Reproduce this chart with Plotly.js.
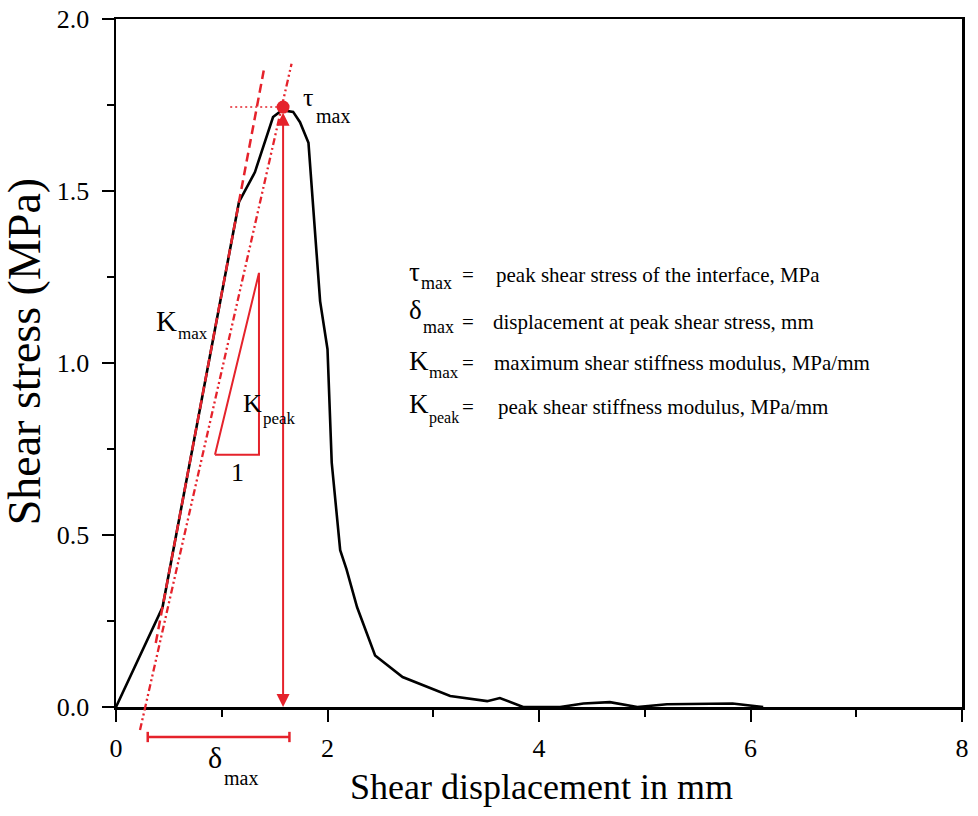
<!DOCTYPE html>
<html><head><meta charset="utf-8">
<script src="https://cdn.plot.ly/plotly-3.0.1.min.js"></script>
<style>html,body{margin:0;padding:0;background:#fff}#chart{width:978px;height:816px}</style>
</head><body><div id="chart"></div>
<script>
// ---- data ----
const dispX   = [0, 0.44, 1.163, 1.314, 1.485, 1.57, 1.675, 1.74, 1.82, 1.865, 1.93, 2.0, 2.04, 2.12, 2.18, 2.28, 2.45, 2.71, 3.16, 3.51, 3.63, 3.85, 4.2, 4.42, 4.67, 4.93, 5.21, 5.83, 6.12];
const stressY = [0, 0.29, 1.468, 1.555, 1.715, 1.735, 1.73, 1.70, 1.64, 1.445, 1.18, 1.04, 0.71, 0.456, 0.40, 0.29, 0.15, 0.087, 0.032, 0.017, 0.026, 0, 0, 0.01, 0.014, 0, 0.008, 0.01, 0];
const peakX = [1.58];
const peakY = [1.744];
const kmaxX = [0.376, 1.397];
const kmaxY = [0.186, 1.85];
const kpeakX = [0.227, 1.66];
const kpeakY = [-0.067, 1.87];
const triX = [0.936, 1.352, 1.352, 0.936];
const triY = [0.733, 0.733, 1.262, 0.733];
const tauGuideX = [1.08, 1.58];
const deltaBarX = [0.30, 1.64];
const xTickVals = [0, 2, 4, 6, 8];
const yTickVals = [0, 0.5, 1.0, 1.5, 2.0];
const legendBase = ['τ', 'δ', 'K', 'K'];
const legendSub = ['max', 'max', 'max', 'peak'];
const legendTexts = ['peak shear stress of the interface, MPa', 'displacement at peak shear stress, mm', 'maximum shear stiffness modulus, MPa/mm', 'peak shear stiffness modulus, MPa/mm'];
const xTitle = 'Shear displacement in mm';
const yTitle = 'Shear stress (MPa)';

// ---- layout constants ----
const RED = '#e5222b';
const FONT = 'Liberation Serif';
const yMax = 2.0;
const legRowY = [1.256, 1.119, 1.0, 0.872];
const legTextX = [3.584, 3.556, 3.565, 3.603];
const legBaseX = 2.761, legEqX = 3.329;
const legBaseY = [1.2645, 1.155, 1.0058, 0.8808];
const legSubX = [2.875, 2.894, 2.950, 2.950];
const legSubY = [1.2326, 1.1047, 0.9738, 0.8401];
const legSubSize = [18, 18, 17, 16];
const barPaperY = -0.0436, capHalf = 0.0075;

const traces = [
  {x: dispX, y: stressY, mode: 'lines', line: {color: '#000', width: 2.6}, hoverinfo: 'skip'},
  {x: kmaxX, y: kmaxY, mode: 'lines', line: {color: RED, width: 2.5, dash: '9px,5px'}, hoverinfo: 'skip'},
  {x: triX, y: triY, mode: 'lines', line: {color: RED, width: 2}, hoverinfo: 'skip'},
  {x: tauGuideX, y: [peakY[0], peakY[0]], mode: 'lines', line: {color: RED, width: 1.5, dash: '2px,3px'}, hoverinfo: 'skip'},
  {x: peakX, y: peakY, mode: 'markers', marker: {color: RED, size: 13}, hoverinfo: 'skip', cliponaxis: false}
];

const shapes = [
  {type: 'line', xref: 'x', yref: 'paper', x0: kpeakX[0], x1: kpeakX[1], y0: kpeakY[0] / yMax, y1: kpeakY[1] / yMax,
   line: {color: RED, width: 2.3, dash: '7px,3px,2px,3px,2px,3px'}},
  {type: 'line', xref: 'x', yref: 'paper', x0: deltaBarX[0], x1: deltaBarX[1], y0: barPaperY, y1: barPaperY, line: {color: RED, width: 2.5}},
  {type: 'line', xref: 'x', yref: 'paper', x0: deltaBarX[0], x1: deltaBarX[0], y0: barPaperY - capHalf, y1: barPaperY + capHalf, line: {color: RED, width: 2.5}},
  {type: 'line', xref: 'x', yref: 'paper', x0: deltaBarX[1], x1: deltaBarX[1], y0: barPaperY - capHalf, y1: barPaperY + capHalf, line: {color: RED, width: 2.5}}
];

const ann = [];
ann.push({x: peakX[0], y: 0, ax: peakX[0], ay: peakY[0] - 0.012, xref: 'x', yref: 'y', axref: 'x', ayref: 'y',
  text: '', showarrow: true, arrowhead: 2, startarrowhead: 2, arrowside: 'end+start', arrowsize: 1.3, startarrowsize: 1.3,
  arrowwidth: 2, arrowcolor: RED});
function lab(text, x, y, size, opts) {
  return Object.assign({text: text, x: x, y: y, xref: 'x', yref: 'y', xanchor: 'left', yanchor: 'middle',
    showarrow: false, borderpad: 0, font: {family: FONT, size: size, color: '#000'}}, opts || {});
}
// labels on the plot
ann.push(lab('τ', 1.759, 1.773, 26));
ann.push(lab('max', 1.882, 1.718, 20));
ann.push(lab('K', 0.369, 1.122, 29));
ann.push(lab('max', 0.577, 1.087, 17));
ann.push(lab('K', 1.191, 0.881, 26));
ann.push(lab('peak', 1.381, 0.840, 17));
ann.push(lab('1', 1.078, 0.683, 26));
ann.push(lab('δ', 0.861, -0.0741, 30, {yref: 'paper'}));
ann.push(lab('max', 1.012, -0.1032, 20, {yref: 'paper'}));
// definitions block
for (let i = 0; i < legendTexts.length; i++) {
  ann.push(lab(legendBase[i], legBaseX, legBaseY[i], 27));
  ann.push(lab(legendSub[i], legSubX[i], legSubY[i], legSubSize[i]));
  ann.push(lab('=', legEqX, legRowY[i], 21, {xanchor: 'center'}));
  ann.push(lab(legendTexts[i], legTextX[i], legRowY[i], 21));
}
// axis titles
ann.push(lab(xTitle, 0.5035, -0.1163, 36, {xref: 'paper', yref: 'paper', xanchor: 'center'}));
ann.push(lab(yTitle, -0.1087, 0.517, 46, {xref: 'paper', yref: 'paper', xanchor: 'center', textangle: -90}));

const axisCommon = {
  showgrid: false, zeroline: false, showline: true, linecolor: '#000', linewidth: 2.5, mirror: true,
  ticks: 'outside', tickcolor: '#000', tickwidth: 2, ticklen: 12,
  tickfont: {family: FONT, size: 26, color: '#000'}, fixedrange: true
};

const layout = {
  width: 978, height: 816,
  margin: {l: 116, r: 16, t: 19, b: 109},
  paper_bgcolor: '#fff', plot_bgcolor: '#fff',
  showlegend: false,
  xaxis: Object.assign({}, axisCommon, {
    range: [0, 8], tickvals: xTickVals, ticktext: xTickVals.map(String), ticklabelstandoff: 4,
    minor: {tickvals: [1, 3, 5, 7], ticks: 'outside', ticklen: 7, tickwidth: 2, tickcolor: '#000'}
  }),
  yaxis: Object.assign({}, axisCommon, {
    range: [0, yMax], tickvals: yTickVals, ticktext: yTickVals.map(v => v.toFixed(1)), ticklabelstandoff: 7,
    minor: {tickvals: [0.25, 0.75, 1.25, 1.75], ticks: 'outside', ticklen: 7, tickwidth: 2, tickcolor: '#000'}
  }),
  shapes: shapes,
  annotations: ann
};

Plotly.newPlot('chart', traces, layout, {displayModeBar: false, staticPlot: true});
</script>
</body></html>
